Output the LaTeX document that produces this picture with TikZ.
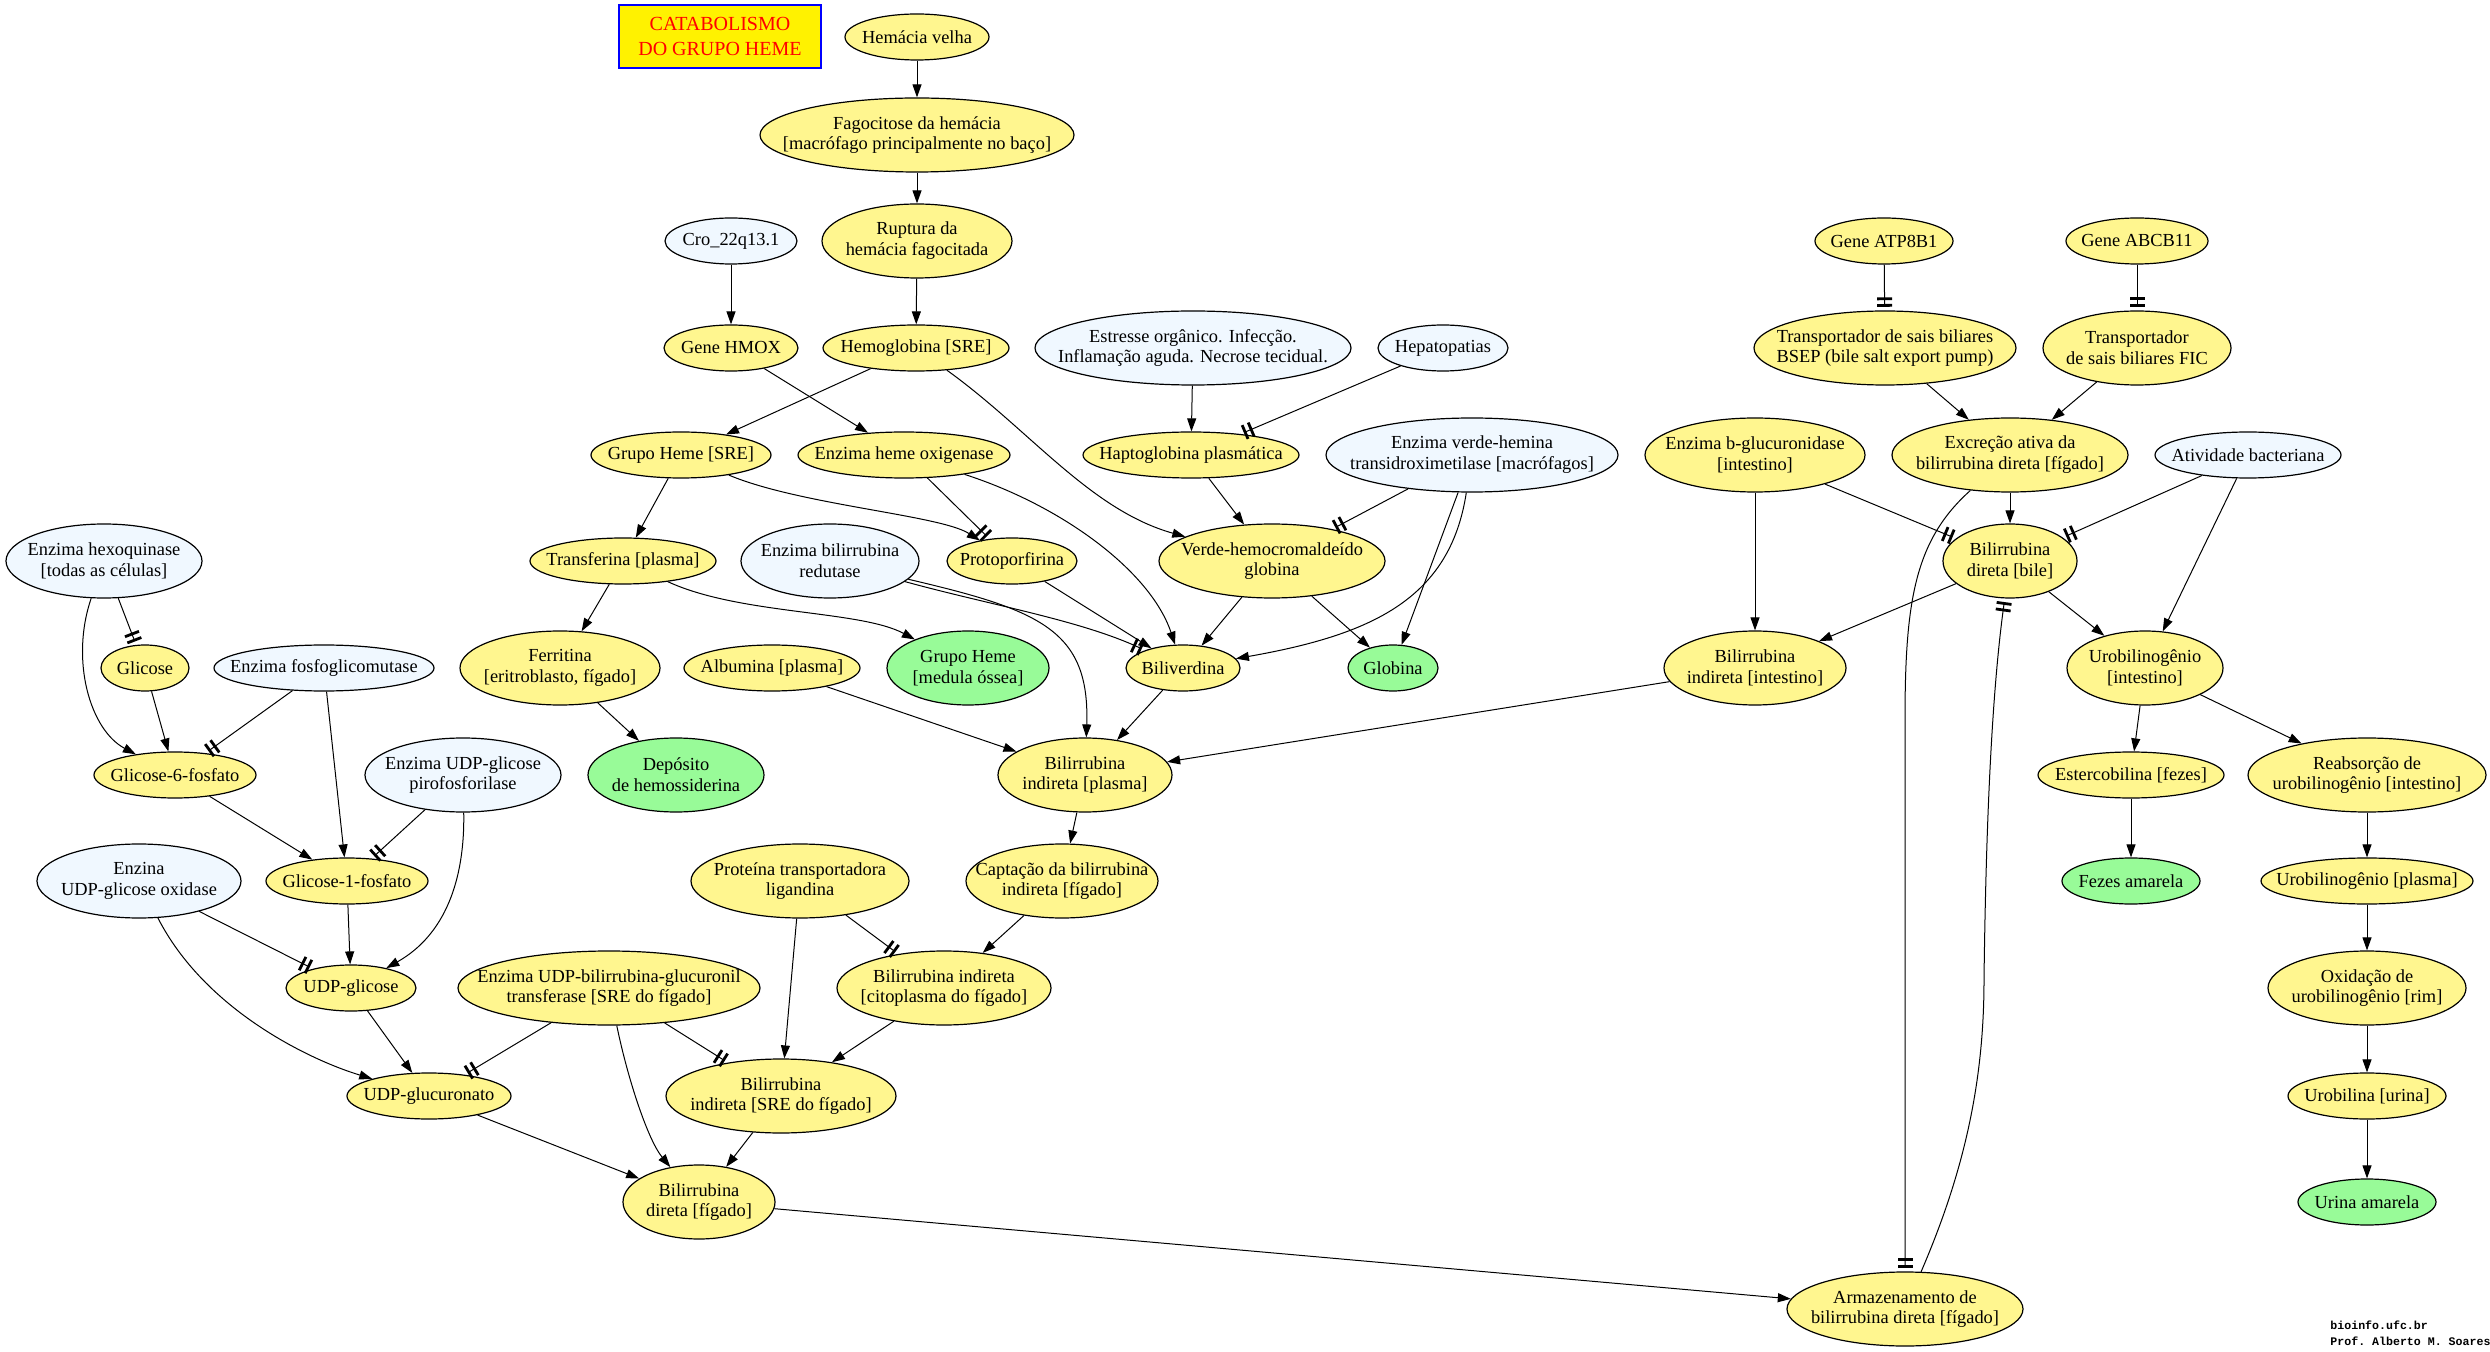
\documentclass[tikz,border=0pt]{standalone}
\usepackage{fontspec}
\setmainfont{Liberation Serif}
\setmonofont{Liberation Mono}
\usetikzlibrary{shapes.geometric,arrows.meta}

\definecolor{corAmarela}{HTML}{FFF68F}
\definecolor{corAzul}{HTML}{F0F8FF}
\definecolor{corVerde}{HTML}{98FB98}

\begin{document}
\begin{tikzpicture}[x=0.5pt, y=-0.5pt,
    elip/.style={ellipse, draw, line width=0.6pt, inner xsep=-300pt, inner ysep=-300pt,
        align=center, font=\fontsize{9.2}{10.4}\selectfont},
    etapa/.style={elip, fill=corAmarela, minimum width=#1},
    fator/.style={elip, fill=corAzul, minimum width=#1},
    produto/.style={elip, fill=corVerde, minimum width=#1},
    uma/.style={minimum height=23pt},
    duas/.style={minimum height=37pt},
    seta/.style={line width=0.5pt, -{Triangle[length=6.5pt,width=4.5pt]}},
    inibe/.style={line width=0.5pt, shorten >=1.8pt,
        -{Bar[width=7.5pt,line width=1.4pt,sep=1.9pt]Bar[width=7.5pt,line width=1.4pt]}}]
    \useasboundingbox (0,0) rectangle (2490,1352);

    % Title
    \node[draw=blue, line width=0.7pt, fill=yellow, text=red, align=center, inner sep=0pt,
        minimum width=101pt, minimum height=31.5pt, font=\fontsize{10}{12.5}\selectfont]
        (titulo) at (720,36.5) {CATABOLISMO\\DO GRUPO HEME};

    % Heme group breakdown
    \node[etapa=72pt, uma] (velha) at (917,37) {Hemácia velha};
    \node[etapa=157pt, duas] (fago) at (917,135) {Fagocitose da hemácia\\{[}macrófago principalmente no baço]};
    \node[fator=66pt, uma] (cro) at (731,241) {Cro\_22q13.1};
    \node[etapa=95pt, duas] (ruptura) at (917,241) {Ruptura da\\hemácia fagocitada};
    \node[etapa=67pt, uma] (hmox) at (731,348) {Gene HMOX};
    \node[etapa=93pt, uma] (hemog) at (916,348) {Hemoglobina [SRE]};
    \node[fator=158pt, duas] (estresse) at (1193,348) {Estresse orgânico. Infecção.\\Inflamação aguda. Necrose tecidual.};
    \node[fator=65pt, uma] (hepato) at (1443,348) {Hepatopatias};
    \node[etapa=90pt, uma] (hemesre) at (681,455) {Grupo Heme [SRE]};
    \node[etapa=106pt, uma] (hoxig) at (904,455) {Enzima heme oxigenase};
    \node[etapa=108pt, uma] (hapto) at (1191,455) {Haptoglobina plasmática};
    \node[fator=146pt, duas] (verdehem) at (1472,455) {Enzima verde-hemina\\transidroximetilase [macrófagos]};
    \node[etapa=93pt, uma] (transf) at (623,561) {Transferina [plasma]};
    \node[fator=89pt, duas] (redutase) at (830,561) {Enzima bilirrubina\\redutase};
    \node[etapa=65pt, uma] (proto) at (1012,561) {Protoporfirina};
    \node[etapa=113pt, duas] (verdeglob) at (1272,561) {Verde-hemocromaldeído\\globina};
    \node[etapa=100pt, duas] (ferritina) at (560,668) {Ferritina\\{[}eritroblasto, fígado]};
    \node[etapa=88pt, uma] (albumina) at (772,668) {Albumina [plasma]};
    \node[produto=81pt, duas] (hememed) at (968,668) {Grupo Heme\\{[}medula óssea]};
    \node[etapa=57pt, uma] (biliv) at (1183,668) {Biliverdina};
    \node[produto=45pt, uma] (globina) at (1393,668) {Globina};
    \node[produto=88pt, duas] (deposito) at (676,775) {Depósito\\de hemossiderina};
    \node[etapa=87pt, duas] (biplasma) at (1085,775) {Bilirrubina\\indireta [plasma]};

    % Glucuronate pathway
    \node[fator=98pt, duas] (hexoq) at (104,561) {Enzima hexoquinase\\{[}todas as células]};
    \node[etapa=44pt, uma] (glicose) at (145,668) {Glicose};
    \node[fator=110pt, uma] (fosfog) at (324,668) {Enzima fosfoglicomutase};
    \node[etapa=81pt, uma] (g6p) at (175,775) {Glicose-6-fosfato};
    \node[fator=98pt, duas] (pirofos) at (463,775) {Enzima UDP-glicose\\pirofosforilase};
    \node[fator=102pt, duas] (udpox) at (139,881) {Enzina\\UDP-glicose oxidase};
    \node[etapa=81pt, uma] (g1p) at (347,881) {Glicose-1-fosfato};
    \node[etapa=65pt, uma] (udpglic) at (351,988) {UDP-glicose};
    \node[etapa=82pt, uma] (udpgluc) at (429,1096) {UDP-glucuronato};

    % Liver
    \node[etapa=109pt, duas] (ligandina) at (800,881) {Proteína transportadora\\ligandina};
    \node[etapa=96pt, duas] (captacao) at (1062,881) {Captação da bilirrubina\\indireta [fígado]};
    \node[etapa=151pt, duas] (ugt) at (609,988) {Enzima UDP-bilirrubina-glucuronil\\transferase [SRE do fígado]};
    \node[etapa=107pt, duas] (bicito) at (944,988) {Bilirrubina indireta\\{[}citoplasma do fígado]};
    \node[etapa=115pt, duas] (bisre) at (781,1096) {Bilirrubina\\indireta [SRE do fígado]};
    \node[etapa=76pt, duas] (bdfig) at (699,1202) {Bilirrubina\\direta [fígado]};
    \node[etapa=118pt, duas] (armaz) at (1905,1309) {Armazenamento de\\bilirrubina direta [fígado]};

    % Bile and intestine
    \node[etapa=69pt, uma] (atp8b1) at (1884,241) {Gene ATP8B1};
    \node[etapa=71pt, uma] (abcb11) at (2137,241) {Gene ABCB11};
    \node[etapa=131pt, duas] (bsep) at (1885,348) {Transportador de sais biliares\\BSEP (bile salt export pump)};
    \node[etapa=94pt, duas] (fic) at (2137,348) {Transportador\\de sais biliares FIC};
    \node[etapa=110pt, duas] (bgluc) at (1755,455) {Enzima b-glucuronidase\\{[}intestino]};
    \node[etapa=118pt, duas] (excrecao) at (2010,455) {Excreção ativa da\\bilirrubina direta [fígado]};
    \node[fator=93pt, uma] (bacter) at (2248,455) {Atividade bacteriana};
    \node[etapa=67pt, duas] (bdbile) at (2010,561) {Bilirrubina\\direta [bile]};
    \node[etapa=91pt, duas] (biintest) at (1755,668) {Bilirrubina\\indireta [intestino]};
    \node[etapa=78pt, duas] (urointest) at (2145,668) {Urobilinogênio\\{[}intestino]};
    \node[etapa=93pt, uma] (estercob) at (2131,775) {Estercobilina [fezes]};
    \node[etapa=119pt, duas] (reabs) at (2367,775) {Reabsorção de\\urobilinogênio [intestino]};
    \node[produto=69pt, uma] (fezes) at (2131,881) {Fezes amarela};
    \node[etapa=106pt, uma] (uroplasma) at (2367,881) {Urobilinogênio [plasma]};
    \node[etapa=99pt, duas] (oxid) at (2367,988) {Oxidação de\\urobilinogênio [rim]};
    \node[etapa=79pt, uma] (urobilina) at (2367,1096) {Urobilina [urina]};
    \node[produto=69pt, uma] (urina) at (2367,1202) {Urina amarela};

    % Signature
    \node[anchor=west, align=left, inner sep=0pt, font=\ttfamily\bfseries\fontsize{5.8}{8}\selectfont]
        (assinatura) at (2330,1333) {bioinfo.ufc.br\\Prof. Alberto M. Soares};

    % Edges: heme breakdown
    \draw[seta] (velha) -- (fago);
    \draw[seta] (fago) -- (ruptura);
    \draw[seta] (ruptura) -- (hemog);
    \draw[seta] (cro) -- (hmox);
    \draw[seta] (hemog) -- (hemesre);
    \draw[seta] (hmox) -- (hoxig);
    \draw[seta] (hemog) .. controls (1030,430) and (1090,510) .. (verdeglob);
    \draw[seta] (hemesre) -- (transf);
    \draw[seta] (hemesre) .. controls (800,505) and (940,515) .. (proto);
    \draw[inibe] (hoxig) -- (proto);
    \draw[seta] (hoxig) .. controls (1060,505) and (1150,570) .. (biliv);
    \draw[seta] (estresse) -- (hapto);
    \draw[inibe] (hepato) -- (hapto);
    \draw[seta] (hapto) -- (verdeglob);
    \draw[inibe] (verdehem) -- (verdeglob);
    \draw[seta] (verdehem) .. controls (1450,600) and (1370,635) .. (biliv);
    \draw[seta] (verdehem) -- (globina);
    \draw[seta] (verdeglob) -- (biliv);
    \draw[seta] (verdeglob) -- (globina);
    \draw[seta] (proto) -- (biliv);
    \draw[inibe] (redutase) .. controls (990,605) and (1080,620) .. (biliv);
    \draw[seta] (redutase) .. controls (1040,610) and (1090,630) .. (biplasma);
    \draw[seta] (biliv) -- (biplasma);
    \draw[seta] (albumina) -- (biplasma);
    \draw[seta] (transf) -- (ferritina);
    \draw[seta] (transf) .. controls (740,615) and (860,610) .. (hememed);
    \draw[seta] (ferritina) -- (deposito);

    % Edges: glucuronate
    \draw[inibe] (hexoq) -- (glicose);
    \draw[seta] (hexoq) .. controls (70,660) and (90,730) .. (g6p);
    \draw[seta] (glicose) -- (g6p);
    \draw[inibe] (fosfog) -- (g6p);
    \draw[seta] (fosfog) -- (g1p);
    \draw[seta] (g6p) -- (g1p);
    \draw[inibe] (pirofos) -- (g1p);
    \draw[seta] (pirofos) .. controls (465,880) and (445,935) .. (udpglic);
    \draw[seta] (g1p) -- (udpglic);
    \draw[inibe] (udpox) -- (udpglic);
    \draw[seta] (udpox) .. controls (205,1010) and (310,1060) .. (udpgluc);
    \draw[seta] (udpglic) -- (udpgluc);

    % Edges: liver
    \draw[seta] (biplasma) -- (captacao);
    \draw[seta] (captacao) -- (bicito);
    \draw[inibe] (ligandina) -- (bicito);
    \draw[seta] (ligandina) -- (bisre);
    \draw[seta] (bicito) -- (bisre);
    \draw[inibe] (ugt) -- (udpgluc);
    \draw[inibe] (ugt) -- (bisre);
    \draw[seta] (ugt) .. controls (628,1080) and (648,1140) .. (bdfig);
    \draw[seta] (bisre) -- (bdfig);
    \draw[seta] (udpgluc) -- (bdfig);
    \draw[seta] (bdfig) -- (armaz);

    % Edges: bile and intestine
    \draw[inibe] (atp8b1) -- (bsep);
    \draw[inibe] (abcb11) -- (fic);
    \draw[seta] (bsep) -- (excrecao);
    \draw[seta] (fic) -- (excrecao);
    \draw[seta] (excrecao) -- (bdbile);
    \draw[inibe] (excrecao) .. controls (1915,540) and (1905,600) .. (1905,720) -- (armaz);
    \draw[inibe] (armaz) .. controls (1965,1170) and (1984,1080) .. (1984,980)
        .. controls (1986,820) and (1992,690) .. (bdbile);
    \draw[seta] (bgluc) -- (biintest);
    \draw[inibe] (bgluc) -- (bdbile);
    \draw[inibe] (bacter) -- (bdbile);
    \draw[seta] (bacter) -- (urointest);
    \draw[seta] (bdbile) -- (biintest);
    \draw[seta] (bdbile) -- (urointest);
    \draw[seta] (biintest) -- (biplasma);
    \draw[seta] (urointest) -- (estercob);
    \draw[seta] (urointest) -- (reabs);
    \draw[seta] (estercob) -- (fezes);
    \draw[seta] (reabs) -- (uroplasma);
    \draw[seta] (uroplasma) -- (oxid);
    \draw[seta] (oxid) -- (urobilina);
    \draw[seta] (urobilina) -- (urina);
\end{tikzpicture}
\end{document}
